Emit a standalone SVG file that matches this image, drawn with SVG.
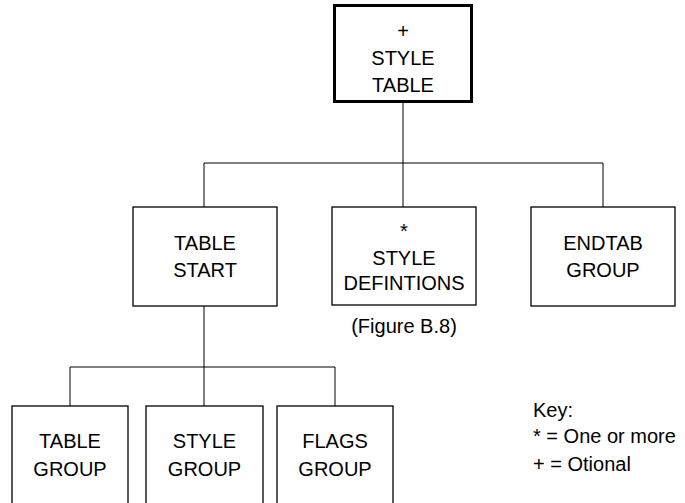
<svg xmlns="http://www.w3.org/2000/svg" width="685" height="503" viewBox="0 0 685 503">
<style>
.box{fill:#fff;stroke:#000;stroke-width:1.3}
.thick{fill:#fff;stroke:#000;stroke-width:3}
.t{font-family:"Liberation Sans",Arial,sans-serif;font-size:20px;fill:#000;text-anchor:middle}
.k{font-family:"Liberation Sans",Arial,sans-serif;font-size:20px;fill:#000}
.c{fill:none;stroke:#000;stroke-width:1}
</style>
<rect width="685" height="503" fill="#fff"/>
<g id="connectors">
<path class="c" d="M403 102V163M204 163H603M204 163V207M403 163V207M603 163V207"/>
<path class="c" d="M204 306V367M70 367H335M70 367V406M204 367V406M335 367V406"/>
</g>
<g id="style-table">
<rect class="thick" x="334.5" y="5.5" width="137" height="96"/>
<text class="t" x="403" y="38">+</text>
<text class="t" x="403" y="65">STYLE</text>
<text class="t" x="403" y="92">TABLE</text>
</g>
<g id="table-start">
<rect class="box" x="133" y="207" width="144" height="99"/>
<text class="t" x="205" y="250">TABLE</text>
<text class="t" x="205" y="277">START</text>
</g>
<g id="style-definitions">
<rect class="box" x="332" y="207" width="144" height="98"/>
<text class="t" x="404" y="238">*</text>
<text class="t" x="404" y="265">STYLE</text>
<text class="t" x="404" y="290">DEFINTIONS</text>
<text class="t" x="404" y="333">(Figure B.8)</text>
</g>
<g id="endtab-group">
<rect class="box" x="531" y="207" width="144" height="99"/>
<text class="t" x="603" y="250">ENDTAB</text>
<text class="t" x="603" y="277">GROUP</text>
</g>
<g id="table-group">
<rect class="box" x="12" y="406" width="116" height="110"/>
<text class="t" x="70" y="448">TABLE</text>
<text class="t" x="70" y="476">GROUP</text>
</g>
<g id="style-group">
<rect class="box" x="146" y="406" width="117" height="110"/>
<text class="t" x="204.5" y="448">STYLE</text>
<text class="t" x="204.5" y="476">GROUP</text>
</g>
<g id="flags-group">
<rect class="box" x="277" y="406" width="116" height="110"/>
<text class="t" x="335" y="448">FLAGS</text>
<text class="t" x="335" y="476">GROUP</text>
</g>
<g id="key">
<text class="k" x="533" y="417">Key:</text>
<text class="k" x="533" y="443">* = One or more</text>
<text class="k" x="533" y="471">+ = Otional</text>
</g>
</svg>
